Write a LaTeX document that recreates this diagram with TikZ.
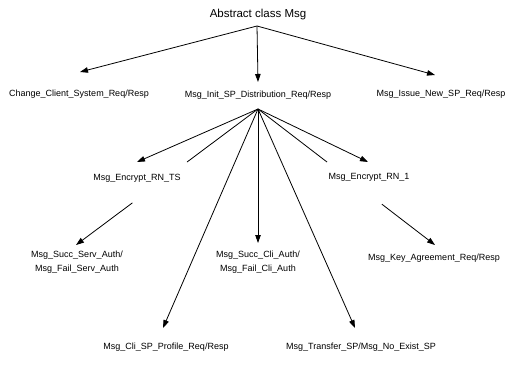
\documentclass[tikz,border=0pt]{standalone}
\usepackage{fontspec}
\setmainfont{Liberation Sans}
\usetikzlibrary{arrows.meta,calc}
\begin{document}
\begin{tikzpicture}[x=1pt,y=-1pt,
  lbl/.style={font=\fontsize{9}{14.5}\selectfont, inner sep=0pt, align=center},
  ttl/.style={font=\fontsize{11.5}{13}\selectfont, inner sep=0pt},
  ln/.style={line width=0.8pt},
  arr/.style={ln, -{Triangle[length=8pt,width=5.5pt]}}]
\useasboundingbox (0,0) rectangle (521,371);
\node[ttl] (title) at (258,15) {Abstract class Msg};
\coordinate (apexA) at (257,26);
\node[lbl] (change) at (79,94) {Change\_Client\_System\_Req/Resp};
\node[lbl] (init) at (258,95) {Msg\_Init\_SP\_Distribution\_Req/Resp};
\node[lbl] (issue) at (441,94) {Msg\_Issue\_New\_SP\_Req/Resp};
\coordinate (apexB) at (258,109);
\node[lbl] (rnts) at (137,178) {Msg\_Encrypt\_RN\_TS};
\node[lbl] (rn1) at (369,177) {Msg\_Encrypt\_RN\_1};
\node[lbl] (servauth) at (77,262) {Msg\_Succ\_Serv\_Auth/\\Msg\_Fail\_Serv\_Auth};
\node[lbl] (cliauth) at (258,262) {Msg\_Succ\_Cli\_Auth/\\Msg\_Fail\_Cli\_Auth};
\node[lbl] (keyagr) at (434,258) {Msg\_Key\_Agreement\_Req/Resp};
\node[lbl] (profile) at (166,347) {Msg\_Cli\_SP\_Profile\_Req/Resp};
\node[lbl] (transfer) at (361,347) {Msg\_Transfer\_SP/Msg\_No\_Exist\_SP};
% top level
\draw[arr] (apexA) -- ($(change)+(1,-22)$);
\draw[arr] (apexA) -- ($(init)+(0,-13)$);
\draw[arr] (apexA) -- ($(issue)+(-6,-19)$);
% second level
\draw[arr] (apexB) -- ($(rnts)+(0,-16)$);
\draw[arr] (apexB) -- ($(rn1)+(-1,-15)$);
\draw[arr] (apexB) -- ($(cliauth)+(0,-19)$);
\draw[arr] (apexB) -- ($(profile)+(-3,-19)$);
\draw[arr] (apexB) -- ($(transfer)+(-6,-19)$);
% lines interrupted behind the Encrypt labels
\coordinate (ts) at ($(servauth)+(-1,-17)$);
\draw[ln] (apexB) -- ($(apexB)!0.39!(ts)$);
\draw[arr] ($(apexB)!0.69!(ts)$) -- (ts);
\coordinate (tk) at ($(keyagr)+(1,-13)$);
\draw[ln] (apexB) -- ($(apexB)!0.39!(tk)$);
\draw[arr] ($(apexB)!0.70!(tk)$) -- (tk);
\end{tikzpicture}
\end{document}
